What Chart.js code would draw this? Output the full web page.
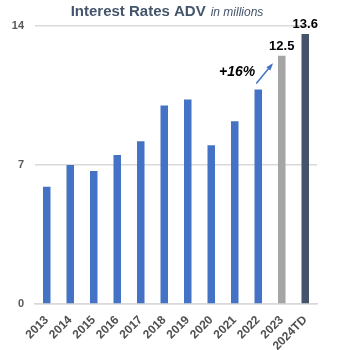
<!DOCTYPE html>
<html>
<head>
<meta charset="utf-8">
<script src="https://cdn.jsdelivr.net/npm/chart.js@4.4.0/dist/chart.umd.min.js"></script>
<style>
  html, body { margin: 0; padding: 0; background: #fff; }
  #wrap { width: 347px; height: 350px; position: relative; }
</style>
</head>
<body>
<div id="wrap"><canvas id="adv"></canvas></div>
<script>
// =================== chart data =======================
const years = ['2013', '2014', '2015', '2016', '2017', '2018', '2019', '2020', '2021', '2022', '2023', '2024TD'];
const advValues = [5.9, 7.0, 6.7, 7.5, 8.2, 10.0, 10.3, 8.0, 9.2, 10.8, 12.5, 13.6];
const barColors = ['#4472C4', '#4472C4', '#4472C4', '#4472C4', '#4472C4', '#4472C4',
                   '#4472C4', '#4472C4', '#4472C4', '#4472C4', '#A5A5A5', '#44546A'];
const showValue = [false, false, false, false, false, false, false, false, false, false, true, true];
const yTicks = [0, 7, 14];
const growthText = '+16%';
// =================== END DATA =========================

const titleMain = 'Interest Rates ADV';
const titleSub = 'in millions';

// title with mixed fonts on one line
const titlePlugin = {
    id: 'mixedTitle',
    afterDraw(chart) {
        const c = chart.ctx;
        c.save();
        c.textBaseline = 'alphabetic';
        c.fillStyle = '#44546A';
        const f1 = 'bold 15px "Liberation Sans Narrow", "Liberation Sans", Arial, sans-serif';
        const f2 = 'italic 12px "Liberation Sans", Arial, sans-serif';
        c.font = f1;
        const w1 = c.measureText(titleMain).width;
        c.font = f2;
        const w2 = c.measureText(titleSub).width;
        const gap = 5;
        let x = 167 - (w1 + gap + w2) / 2;
        c.font = f1;
        c.fillText(titleMain, x, 16);
        c.font = f2;
        c.fillText(titleSub, x + w1 + gap, 16);
        c.restore();
    }
};

// value labels + growth note
const labelPlugin = {
    id: 'valueLabels',
    afterDatasetsDraw(chart) {
        const c = chart.ctx;
        const meta = chart.getDatasetMeta(0);
        const yScale = chart.scales.y;
        c.save();
        c.fillStyle = '#000';
        c.font = 'bold 13px "Liberation Sans", Arial, sans-serif';
        c.textAlign = 'center';
        c.textBaseline = 'bottom';
        meta.data.forEach((bar, i) => {
            if (showValue[i]) c.fillText(advValues[i].toFixed(1), bar.x, bar.y - 3);
        });

        // arrow from 2022 towards 2023
        const b1 = meta.data[9], b2 = meta.data[10];
        const x0 = b1.x - 2, y0 = yScale.getPixelForValue(11.1);
        const x1 = b2.x - 10, y1 = yScale.getPixelForValue(12.05);
        c.strokeStyle = '#4472C4';
        c.fillStyle = '#4472C4';
        c.lineWidth = 1.5;
        c.beginPath();
        c.moveTo(x0, y0);
        c.lineTo(x1, y1);
        c.stroke();
        const ang = Math.atan2(y1 - y0, x1 - x0);
        c.beginPath();
        c.moveTo(x1 + 2 * Math.cos(ang), y1 + 2 * Math.sin(ang));
        c.lineTo(x1 - 6 * Math.cos(ang - 0.45), y1 - 6 * Math.sin(ang - 0.45));
        c.lineTo(x1 - 6 * Math.cos(ang + 0.45), y1 - 6 * Math.sin(ang + 0.45));
        c.closePath();
        c.fill();

        c.fillStyle = '#000';
        c.font = 'italic bold 14px "Liberation Sans", Arial, sans-serif';
        c.textAlign = 'right';
        c.textBaseline = 'middle';
        c.fillText(growthText, b1.x - 3, yScale.getPixelForValue(11.7));
        c.restore();
    }
};

function advChart() {
    const ctx = document.getElementById('adv');
    const myChart = new Chart(ctx, {
        type: 'bar',
        data: {
            labels: years,
            datasets: [{
                label: 'ADV',
                data: advValues,
                backgroundColor: barColors,
                borderWidth: 0,
                barPercentage: 0.32,
                categoryPercentage: 1
            }]
        },
        options: {
            responsive: true,
            maintainAspectRatio: false,
            animation: false,
            layout: { padding: { top: 26, right: 30, left: 0, bottom: 0 } },
            plugins: {
                legend: { display: false },
                title: { display: false },
                tooltip: { enabled: false }
            },
            scales: {
                y: {
                    min: 0,
                    max: 14,
                    afterBuildTicks: (axis) => { axis.ticks = yTicks.map(v => ({ value: v })); },
                    afterFit: (axis) => { axis.width = 35; },
                    grid: { color: '#D9D9D9', lineWidth: 1.5, drawTicks: false },
                    border: { display: false },
                    ticks: {
                        padding: 11,
                        color: '#595959',
                        font: { family: '"Liberation Sans", Arial, sans-serif', size: 11, weight: 'bold' }
                    }
                },
                x: {
                    afterFit: (axis) => { axis.height = 46; },
                    grid: { display: false },
                    border: { color: '#D9D9D9', width: 1.5 },
                    ticks: {
                        autoSkip: false,
                        minRotation: 45,
                        maxRotation: 45,
                        padding: 1,
                        color: '#505050',
                        font: { family: '"Liberation Sans", Arial, sans-serif', size: 12, weight: 'bold' }
                    }
                }
            }
        },
        plugins: [titlePlugin, labelPlugin]
    });
    return myChart;
}

advChart();
</script>
</body>
</html>
